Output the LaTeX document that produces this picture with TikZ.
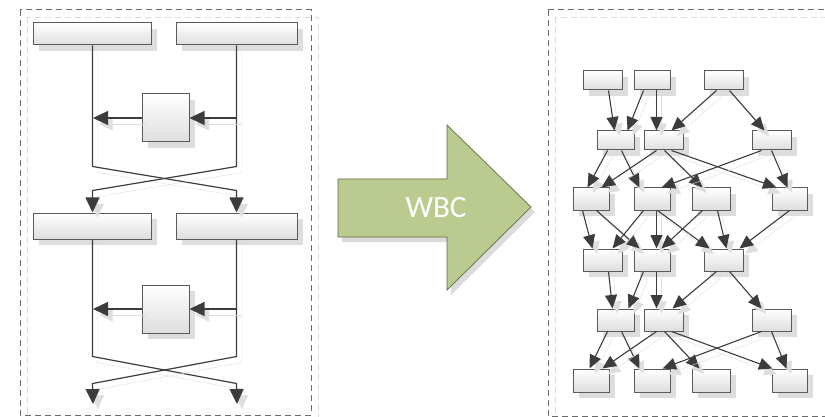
\documentclass[tikz,border=0pt]{standalone}
\usepackage{fontspec}
\newfontfamily\wbcfont{Carlito}
\usetikzlibrary{arrows.meta,shadows,fit,calc}
\definecolor{ln}{RGB}{60,60,60}
\definecolor{bx}{RGB}{90,90,90}
\definecolor{grn}{RGB}{187,203,143}
\definecolor{grnd}{RGB}{95,108,62}
\newcommand\dagedge[4]{\draw[smarr] ([xshift=#2]#1.south west) -- ([xshift=#4]#3.north west);}
\begin{document}
\begin{tikzpicture}[x=1pt,y=-1pt,
 box/.style={draw=bx, line width=1pt, top color=white, bottom color=black!13, inner sep=0pt,
   drop shadow={shadow xshift=6pt, shadow yshift=-6pt, fill=black!22, opacity=0.6}},
 frame/.style={draw=black!58, dash pattern=on 6pt off 4pt, line width=1pt},
 iframe/.style={draw=black!14, dash pattern=on 6pt off 4pt, line width=0.9pt},
 lsh/.style={preaction={draw=black!13, transform canvas={shift={(5pt,-6pt)}}}},
 bigarr/.style={draw=ln, line width=1.2pt, -{Triangle[length=15pt,width=14pt]}, lsh},
 smarr/.style={draw=ln, line width=1.1pt, -{Triangle[length=13.5pt,width=12pt]}, lsh},
]
\useasboundingbox (0,0) rectangle (825,417);
% frames
\draw[iframe] (27,17) rectangle (318,423);
\draw[frame] (20,10) rectangle (311,415);
\draw[iframe] (555,17) rectangle (835,423);
\draw[frame] (548,10) rectangle (830,416);

% ---------- left panel ----------
\node[box, fit={(33,23) (151,45)}] (L1) {};
\node[box, fit={(176,23) (297,45)}] (L2) {};
\node[box, fit={(142,94) (189,142)}] (M1) {};
\node[box, fit={(33,213) (151,239)}] (L3) {};
\node[box, fit={(176,213) (297,239)}] (L4) {};
\node[box, fit={(142,285) (189,333)}] (M2) {};
\coordinate (c1r) at (237,118);
\coordinate (c1l) at (93,118);
\coordinate (c2r) at (237,309);
\coordinate (c2l) at (93,309);
\coordinate (e1) at (93,404);
\coordinate (e2) at (237,404);

\draw[bigarr] ([xshift=60]L1.south west) -- ++(0,121) -- ++(144,24) -- ([xshift=61]L4.north west);
\draw[bigarr] ([xshift=61]L2.south west) -- ++(0,121) -- ++(-144,24) -- ([xshift=60]L3.north west);
\draw[bigarr] (c1r) -- (M1.east);
\draw[bigarr] (M1.west) -- (c1l);
\draw[bigarr] ([xshift=60]L3.south west) -- ++(0,117) -- ++(144,27) -- (e2);
\draw[bigarr] ([xshift=61]L4.south west) -- ++(0,117) -- ++(-144,27) -- (e1);
\draw[bigarr] (c2r) -- (M2.east);
\draw[bigarr] (M2.west) -- (c2l);

% ---------- big arrow ----------
\fill[black!20, opacity=0.7] (342,184) -- (451,184) -- (451,130) -- (535,212) -- (451,295) -- (451,242) -- (342,242) -- cycle;
\draw[grnd, fill=grn, line width=0.7pt] (338,179) -- (447,179) -- (447,125) -- (531,207) -- (447,290) -- (447,237) -- (338,237) -- cycle;
\node[text=white, font=\wbcfont\fontsize{31}{31}\selectfont] (wbc) at (436,208) {WBC};

% ---------- right panel ----------
\node[box, fit={(583,71) (622,90)}] (a1) {};
\node[box, fit={(634,71) (670,90)}] (a2) {};
\node[box, fit={(704,71) (743,90)}] (a3) {};
\node[box, fit={(597,131) (634,150)}] (b1) {};
\node[box, fit={(644,131) (683,150)}] (b2) {};
\node[box, fit={(752,131) (791,150)}] (b3) {};
\node[box, fit={(573,188) (609,210)}] (c1) {};
\node[box, fit={(634,188) (670,210)}] (c2) {};
\node[box, fit={(692,188) (730,210)}] (c3) {};
\node[box, fit={(772,188) (807,210)}] (c4) {};
\node[box, fit={(583,249) (622,271)}] (d1) {};
\node[box, fit={(634,249) (670,271)}] (d2) {};
\node[box, fit={(704,249) (743,271)}] (d3) {};
\node[box, fit={(597,309) (634,331)}] (f1) {};
\node[box, fit={(644,309) (683,331)}] (f2) {};
\node[box, fit={(752,309) (791,331)}] (f3) {};
\node[box, fit={(573,369) (609,392)}] (g1) {};
\node[box, fit={(634,369) (670,392)}] (g2) {};
\node[box, fit={(692,369) (730,392)}] (g3) {};
\node[box, fit={(772,369) (807,392)}] (g4) {};

% row1 -> row2
\dagedge{a1}{26}{b1}{18}
\dagedge{a2}{10}{b1}{31}
\dagedge{a2}{23}{b2}{13}
\dagedge{a3}{13}{b2}{28}
\dagedge{a3}{26}{b3}{13}
% row2 -> row3
\dagedge{b1}{11}{c1}{15}
\dagedge{b1}{25}{c2}{6}
\dagedge{b2}{13}{c1}{29}
\dagedge{b2}{21}{c3}{11}
\dagedge{b2}{28}{c4}{5}
\dagedge{b3}{10}{c2}{28}
\dagedge{b3}{20}{c4}{16}
% row3 -> row4
\dagedge{c1}{10}{d1}{10}
\dagedge{c1}{24}{d2}{6}
\dagedge{c2}{10}{d1}{30}
\dagedge{c2}{23}{d2}{23}
\dagedge{c2}{24}{d3}{6}
\dagedge{c3}{11}{d2}{28}
\dagedge{c3}{26}{d3}{23}
\dagedge{c4}{18}{d3}{36}
% row4 -> row5
\dagedge{d1}{26}{f1}{16}
\dagedge{d2}{10}{f1}{32}
\dagedge{d2}{23}{f2}{13}
\dagedge{d3}{13}{f2}{29}
\dagedge{d3}{26}{f3}{10}
% row5 -> row6
\dagedge{f1}{11}{g1}{17}
\dagedge{f1}{25}{g2}{6}
\dagedge{f2}{13}{g1}{30}
\dagedge{f2}{21}{g3}{8}
\dagedge{f2}{28}{g4}{1}
\dagedge{f3}{10}{g2}{29}
\dagedge{f3}{20}{g4}{15}
\end{tikzpicture}
\end{document}
